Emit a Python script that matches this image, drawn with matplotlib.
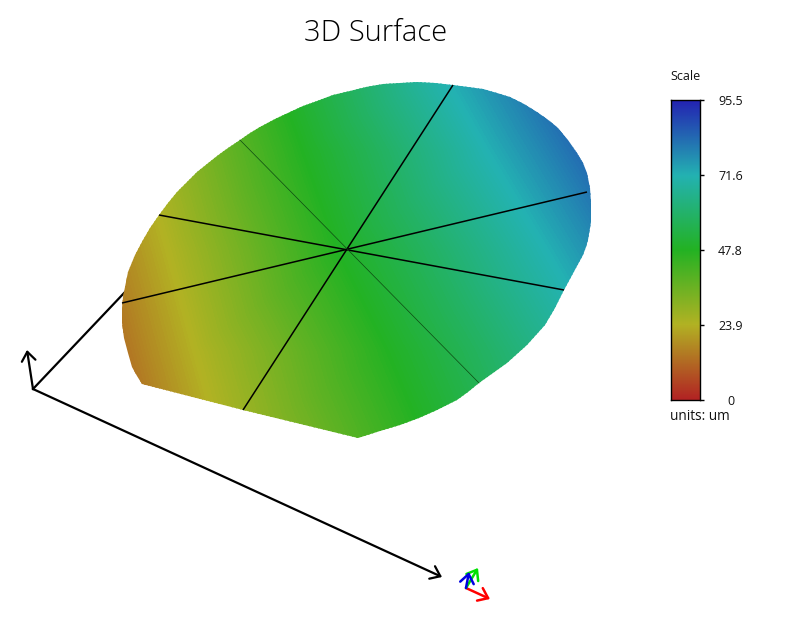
import matplotlib
matplotlib.use("Agg")
import matplotlib.pyplot as plt
import numpy as np
from matplotlib.colors import LinearSegmentedColormap
from matplotlib.patches import Polygon
from matplotlib.tri import Triangulation

# Colour scale
scale_ticks = [0, 23.9, 47.8, 71.6, 95.5]
scale_labels = ["0", "23.9", "47.8", "71.6", "95.5"]
scale_colors = ["#B22323", "#B2B223", "#23B223", "#23B2B2", "#2323B2"]

# Surface height samples: screen rows (y) and the x where each height occurs
row_y = [70, 150, 250, 350, 450]
x_z0 = [-42, -20, 8, 35, 63]
x_z239 = [118, 140, 168, 195, 223]
x_z478 = [275, 303, 338, 388, 430]
x_z716 = [442, 487, 547, 605, 660]
x_z955 = [625, 673, 733, 793, 853]

# Surface outline
outline_x = [128, 135, 143, 150, 159, 168, 177, 187, 197, 207, 217, 228, 240, 250, 260,
             275, 290, 303, 317, 333, 350, 366, 383, 400, 417, 435, 453, 468, 483, 497,
             510, 524, 537, 547, 557, 568, 577, 583, 587, 590, 591, 591, 588, 586, 583,
             564, 555, 545, 536, 527, 517, 507, 493, 479, 468, 457, 447, 437, 419, 400,
             380, 358, 243, 142, 137, 132, 128, 124, 122, 122, 123, 125]
outline_y = [272, 255, 240, 228, 215, 203, 192, 182, 172, 164, 156, 148, 140, 133, 127,
             119, 112, 106, 101, 95, 91, 87, 84, 83, 82, 83, 85, 87, 89, 93,
             97, 104, 112, 119, 127, 140, 153, 163, 173, 188, 203, 222, 240, 247, 255,
             290, 308, 325, 335, 345, 354, 363, 373, 383, 392, 400, 405, 410, 418, 425,
             431, 438, 410, 384, 376, 367, 353, 338, 323, 308, 297, 287]

# Section lines across the surface: (x0, y0, x1, y1)
spoke_a = [453, 85, 243, 410]
spoke_b = [587, 192, 122, 303]
spoke_c = [159, 215, 564, 290]
spoke_d = [240, 140, 479, 383]

# Axis arrows
axis_origin = [33, 389]
axis_up = [27, 350]
axis_long = [442, 577]
axis_back = [125, 292]

# Orientation triad
triad_origin = [466, 588]
triad_red = [490, 599]
triad_green = [478, 568]
triad_blue = [469, 572]

fig = plt.figure(figsize=(8, 6.4), dpi=100, facecolor="white")
ax = fig.add_axes([0, 0, 1, 1])
ax.set_xlim(0, 800)
ax.set_ylim(640, 0)
ax.axis("off")

cmap = LinearSegmentedColormap.from_list(
    "scale", [(v / scale_ticks[-1], c) for v, c in zip(scale_ticks, scale_colors)], N=512)

# Axis line hidden behind the surface
ax.plot([axis_origin[0], axis_back[0]], [axis_origin[1], axis_back[1]],
        color="black", lw=1.6, zorder=1)


def arrow(start, end, color, lw=1.6, size=10, z=5):
    ax.annotate("", xy=end, xytext=start, zorder=z,
                arrowprops=dict(arrowstyle="->,head_length=0.5,head_width=0.38",
                                color=color, lw=lw, mutation_scale=size,
                                shrinkA=0, shrinkB=0))


arrow(axis_origin, axis_up, "black", size=13)
arrow(axis_origin, axis_long, "black", size=13)

# Surface
tx = np.concatenate([x_z0, x_z239, x_z478, x_z716, x_z955]).astype(float)
ty = np.tile(np.array(row_y, dtype=float), 5)
tz = np.repeat(np.array(scale_ticks, dtype=float), len(row_y))
tri = Triangulation(tx, ty)
cs = ax.tricontourf(tri, tz, levels=np.linspace(0, 95.5, 192), cmap=cmap,
                    antialiased=False, zorder=2)
clip = Polygon(np.column_stack([outline_x, outline_y]), closed=True,
               transform=ax.transData, fc="none", ec="none")
ax.add_patch(clip)
cs.set_clip_path(clip)

# Section lines
for s in (spoke_a, spoke_b, spoke_c):
    ax.plot([s[0], s[2]], [s[1], s[3]], color="black", lw=1.1, zorder=3,
            solid_capstyle="butt")
ax.plot([spoke_d[0], spoke_d[2]], [spoke_d[1], spoke_d[3]], color="#0d4a12",
        lw=0.5, zorder=3)

# Triad
arrow(triad_origin, triad_red, "#ff0000", lw=1.8, size=13)
arrow(triad_origin, triad_green, "#00e000", lw=1.8, size=13)
arrow(triad_origin, triad_blue, "#0000e0", lw=1.8, size=13)

# Title and labels
ax.text(375.5, 33, "3D Surface", fontsize=21, ha="center", va="center",
        family="Open Sans", weight=300, color="black")
ax.text(670, 77, "Scale", fontsize=9, ha="left", va="center",
        family="Open Sans", color="#111111")
ax.text(670, 417, "units: um", fontsize=9.8, ha="left", va="center",
        family="Open Sans", color="#111111")

# Colour bar
cax = fig.add_axes([671 / 800, 1 - 400 / 640, 29 / 800, 300 / 640])
grad = np.linspace(0, 95.5, 300).reshape(-1, 1)
cax.imshow(grad, origin="lower", aspect="auto", cmap=cmap, vmin=0, vmax=95.5,
           extent=[0, 1, 0, 95.5], interpolation="bilinear")
cax.set_xticks([])
cax.yaxis.tick_right()
cax.set_yticks(scale_ticks)
cax.set_yticklabels(scale_labels, fontsize=9, family="Open Sans",
                    color="#111111", ha="center")
cax.tick_params(axis="y", length=3, width=1, pad=19, color="black")
for sp in cax.spines.values():
    sp.set_linewidth(1)
    sp.set_color("black")

fig.savefig("out.png", dpi=100)
